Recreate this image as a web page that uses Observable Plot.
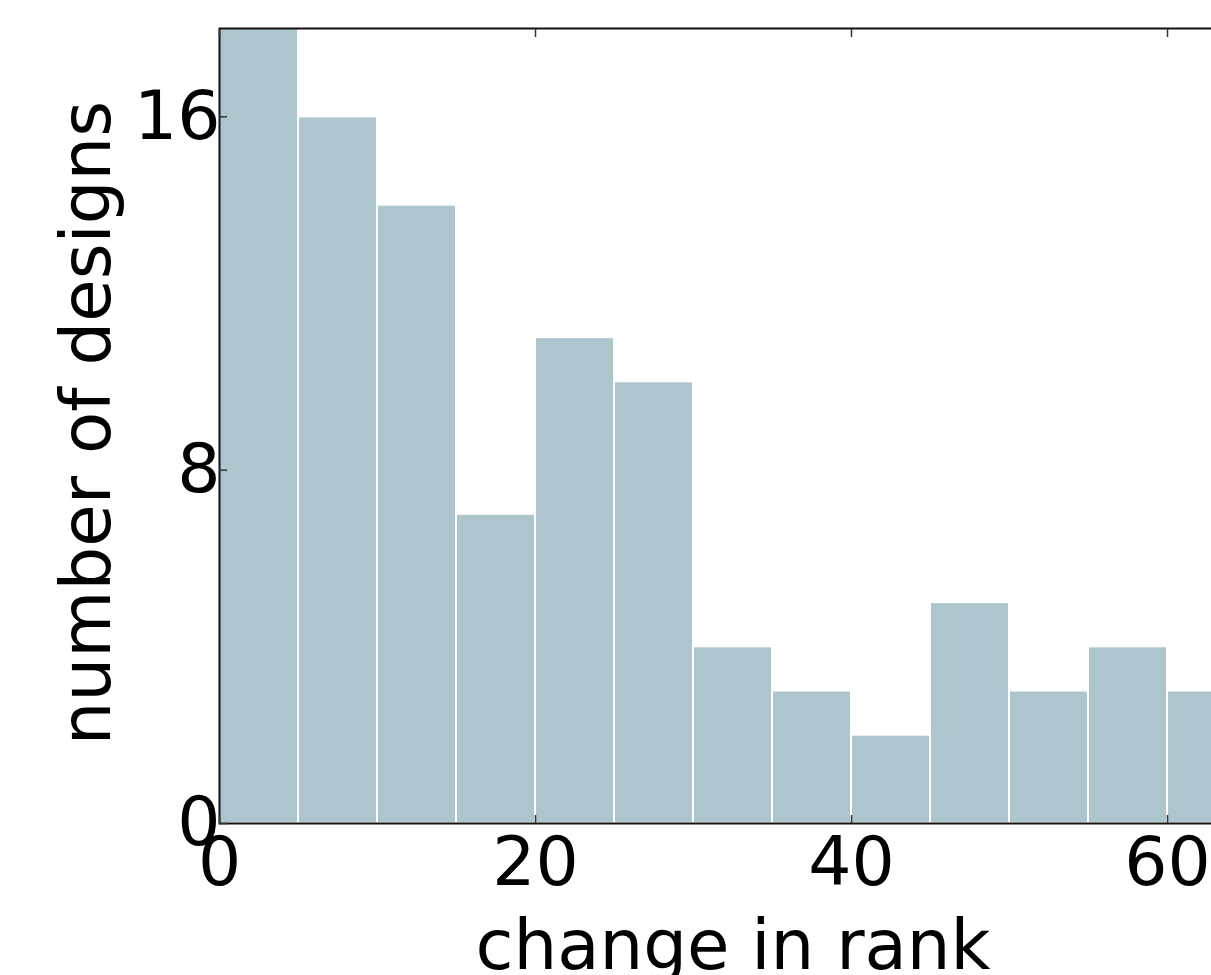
<!DOCTYPE html>
<html>
<head>
<meta charset="utf-8">
<script src="https://cdn.jsdelivr.net/npm/d3@7"></script>
<script src="https://cdn.jsdelivr.net/npm/@observablehq/plot@0.6"></script>
<style>
  html, body { margin: 0; padding: 0; background: white; overflow: hidden; }
  #chart svg { max-width: none !important; display: block; }
</style>
</head>
<body>
<div id="chart"></div>
<script>
// Data
const binStarts = [0, 5, 10, 15, 20, 25, 30, 35, 40, 45, 50, 55, 60];
const binWidth = 5;
const counts = [18, 16, 14, 7, 11, 10, 4, 3, 2, 5, 3, 4, 3];
const xTicks = [0, 20, 40, 60];
const yTicks = [0, 8, 16];
const xLabel = "change in rank";
const yLabel = "number of designs";

const bins = binStarts.map((s, i) => ({x1: s, x2: s + binWidth, count: counts[i]}));

const font = "DejaVu Sans, sans-serif";
const tickColor = "#333";

const chart = Plot.plot({
  width: 1300,
  height: 975,
  marginLeft: 219,
  marginRight: 54,
  marginTop: 28,
  marginBottom: 152,
  style: {fontFamily: font, background: "white", maxWidth: "none"},
  x: {domain: [0, 65]},
  y: {domain: [0, 18]},
  marks: [
    Plot.rectY(bins, {x1: "x1", x2: "x2", y: "count", fill: "#adc5cd", stroke: "white", strokeWidth: 2}),
    Plot.frame({stroke: "#111", strokeWidth: 2}),
    // inward ticks
    Plot.axisX(xTicks, {anchor: "bottom", tickSize: -8, fill: "none", stroke: tickColor, strokeWidth: 1.5, label: null}),
    Plot.axisX(xTicks, {anchor: "top", tickSize: -8, fill: "none", stroke: tickColor, strokeWidth: 1.5, label: null}),
    Plot.axisY(yTicks, {anchor: "left", tickSize: -8, fill: "none", stroke: tickColor, strokeWidth: 1.5, label: null}),
    // tick labels
    Plot.axisX(xTicks, {anchor: "bottom", tickSize: 0, tickPadding: 13, fontSize: 68, fill: "black", label: null}),
    Plot.axisY(yTicks, {anchor: "left", tickSize: 0, tickPadding: -1, fontSize: 68, fill: "black", label: null}),
    // axis titles
    Plot.text([xLabel], {text: d => d, frameAnchor: "bottom", dy: 145, lineAnchor: "bottom", textAnchor: "middle", fontSize: 69, fill: "black"}),
    Plot.text([yLabel], {text: d => d, frameAnchor: "left", dx: -110, dy: -3, rotate: -90, lineAnchor: "bottom", textAnchor: "middle", fontSize: 69, fill: "black"})
  ]
});
document.getElementById("chart").appendChild(chart);
</script>
</body>
</html>
